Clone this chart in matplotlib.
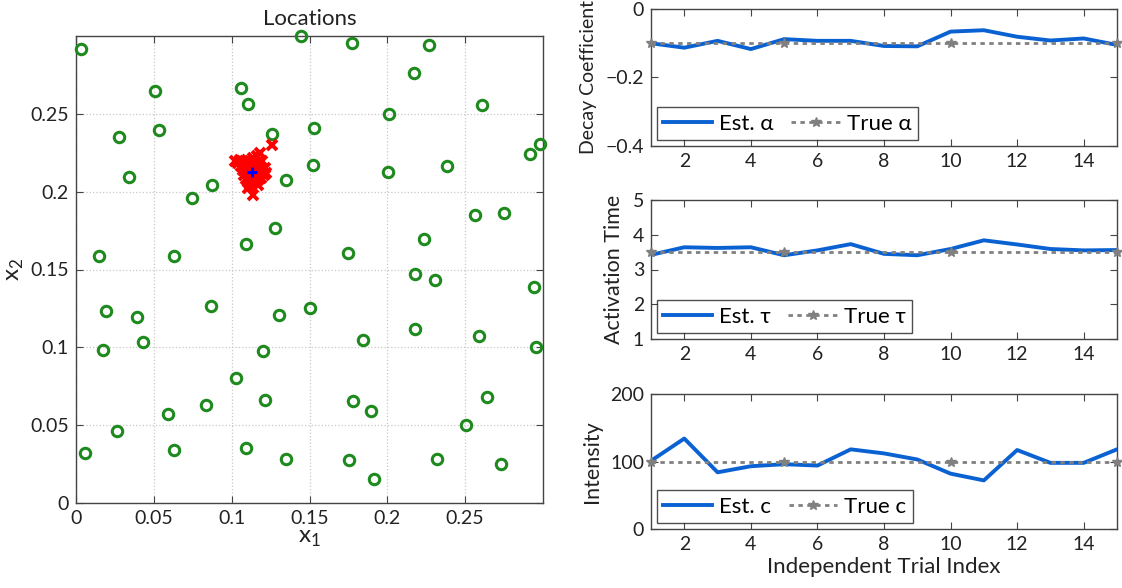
import matplotlib
matplotlib.use("Agg")
import matplotlib.pyplot as plt

plt.rcParams['font.family'] = ['Lato', 'DejaVu Sans']
plt.rcParams['mathtext.fontset'] = 'custom'
plt.rcParams['mathtext.rm'] = 'Lato'

# ---------------- data ----------------
sensor_x = [0.0033, 0.1448, 0.1773, 0.2267, 0.2171, 0.0508, 0.1057, 0.1105, 0.2607, 0.2012,
            0.0277, 0.0534, 0.1259, 0.1530, 0.2981, 0.2919, 0.0341, 0.1521, 0.2005, 0.2384,
            0.1346, 0.0873, 0.0745, 0.2565, 0.2747, 0.1278, 0.1092, 0.2235, 0.0146, 0.0630,
            0.1746, 0.2178, 0.2306, 0.2942, 0.0192, 0.0391, 0.0869, 0.1307, 0.1503, 0.2178,
            0.2588, 0.0176, 0.0433, 0.1200, 0.1842, 0.2956, 0.1028, 0.1213, 0.0835, 0.1780,
            0.1895, 0.2643, 0.0589, 0.0263, 0.2508, 0.0056, 0.0628, 0.1092, 0.1349, 0.1753,
            0.2317, 0.2733, 0.1913]
sensor_y = [0.2916, 0.2998, 0.2953, 0.2940, 0.2765, 0.2645, 0.2664, 0.2561, 0.2559, 0.2497,
            0.2348, 0.2397, 0.2369, 0.2409, 0.2307, 0.2241, 0.2093, 0.2172, 0.2125, 0.2166,
            0.2074, 0.2041, 0.1958, 0.1851, 0.1864, 0.1765, 0.1665, 0.1695, 0.1584, 0.1586,
            0.1605, 0.1470, 0.1432, 0.1389, 0.1235, 0.1198, 0.1265, 0.1209, 0.1254, 0.1115,
            0.1076, 0.0984, 0.1032, 0.0976, 0.1049, 0.1001, 0.0805, 0.0663, 0.0629, 0.0657,
            0.0591, 0.0680, 0.0571, 0.0464, 0.0499, 0.0319, 0.0342, 0.0351, 0.0282, 0.0278,
            0.0282, 0.0252, 0.0152]

est_src_x = [0.1023, 0.1040, 0.1055, 0.1062, 0.1075, 0.1080, 0.1088, 0.1092, 0.1095, 0.1100,
             0.1105, 0.1108, 0.1112, 0.1115, 0.1118, 0.1122, 0.1125, 0.1128, 0.1131, 0.1134,
             0.1138, 0.1140, 0.1142, 0.1145, 0.1148, 0.1152, 0.1155, 0.1160, 0.1163, 0.1168,
             0.1172, 0.1175, 0.1180, 0.1183, 0.1188, 0.1193, 0.1198, 0.1205, 0.1212, 0.1220,
             0.1259, 0.1102, 0.1118, 0.1083, 0.1135, 0.1170]
est_src_y = [0.2196, 0.2185, 0.2205, 0.2165, 0.2140, 0.2110, 0.2180, 0.2080, 0.2150, 0.2120,
             0.2060, 0.2170, 0.2140, 0.2100, 0.2195, 0.2075, 0.2155, 0.2115, 0.2180, 0.2090,
             0.2140, 0.1977, 0.2060, 0.2200, 0.2120, 0.2165, 0.2095, 0.2230, 0.2140, 0.2075,
             0.2190, 0.2110, 0.2250, 0.2160, 0.2090, 0.2130, 0.2200, 0.2105, 0.2150, 0.2120,
             0.2298, 0.2025, 0.2040, 0.2200, 0.2215, 0.2040]
true_src = (0.1128, 0.2129)

trials = list(range(1, 16))
est_alpha = [-0.100, -0.113, -0.093, -0.117, -0.088, -0.093, -0.093, -0.108, -0.109, -0.066,
             -0.062, -0.081, -0.092, -0.086, -0.105]
true_alpha = [-0.1] * 15
est_tau = [3.42, 3.64, 3.62, 3.64, 3.41, 3.55, 3.73, 3.45, 3.41, 3.59, 3.84, 3.72, 3.59, 3.55, 3.56]
true_tau = [3.5] * 15
est_c = [101, 134, 84, 93, 96, 94, 118, 112, 103, 82, 72, 117, 98, 98, 118]
true_c = [100] * 15

# ---------------- style ----------------
W, H = 1122, 588
fig = plt.figure(figsize=(W / 100, H / 100), dpi=100)
spine_col = '#444444'
green = '#1e8a1e'
blue = '#0a62d2'
gray = '#808080'
tick_fs = 14
lab_fs = 15.5


def style_ax(ax):
    for s in ax.spines.values():
        s.set_color(spine_col)
        s.set_linewidth(1.0)
    ax.tick_params(direction='in', top=True, right=True, length=5, width=0.8,
                   colors=spine_col, labelcolor='#222222', labelsize=tick_fs, pad=5)


def frac(x0, y0, x1, y1):
    return [x0 / W, 1 - y1 / H, (x1 - x0) / W, (y1 - y0) / H]


# left scatter
ax = fig.add_axes(frac(76, 36, 543, 503))
style_ax(ax)
ax.grid(True, linestyle=':', color='#c8c8c8', linewidth=0.9)
ax.set_axisbelow(True)
ax.plot(sensor_x, sensor_y, 'o', mfc='none', mec=green, ms=7.5, mew=2.2, clip_on=False, zorder=3)
ax.plot(est_src_x, est_src_y, 'x', color='red', ms=6.5, mew=2.8, zorder=4)
ax.plot([true_src[0]], [true_src[1]], '+', color='blue', ms=7, mew=2.2, zorder=5)
ax.set_xlim(0, 0.3)
ax.set_ylim(0, 0.3)
ax.set_xticks([0, 0.05, 0.1, 0.15, 0.2, 0.25])
ax.set_xticklabels(['0', '0.05', '0.1', '0.15', '0.2', '0.25'])
ax.set_yticks([0, 0.05, 0.1, 0.15, 0.2, 0.25])
ax.set_yticklabels(['0', '0.05', '0.1', '0.15', '0.2', '0.25'])
ax.set_title('Locations', fontsize=16, color='#222222', pad=8)
ax.set_xlabel(r'x$_{\mathregular{1}}$', fontsize=lab_fs + 2, color='#222222', labelpad=1)
ax.set_ylabel(r'x$_{\mathregular{2}}$', fontsize=lab_fs + 2, color='#222222', labelpad=3)

# right panels
panels = [
    (frac(651, 9, 1117, 146), est_alpha, true_alpha, (-0.4, 0), [-0.4, -0.2, 0],
     ['\u22120.4', '\u22120.2', '0'], 'Decay Coefficient', 'α', 14),
    (frac(651, 200, 1117, 339), est_tau, true_tau, (1, 5), [1, 2, 3, 4, 5],
     ['1', '2', '3', '4', '5'], 'Activation Time', 'τ', lab_fs),
    (frac(651, 394, 1117, 529), est_c, true_c, (0, 200), [0, 100, 200],
     ['0', '100', '200'], 'Intensity', 'c', lab_fs),
]
for i, (pos, est, tru, ylim, yt, ytl, ylab, sym, yfs) in enumerate(panels):
    a = fig.add_axes(pos)
    style_ax(a)
    a.plot(trials, est, '-', color=blue, lw=2.8, label='Est. ' + sym, zorder=3)
    a.plot(trials, tru, linestyle=(0, (1.6, 1.6)), color=gray, lw=2.0,
           marker='*', ms=7, mfc=gray, mec=gray, markevery=[0, 4, 9, 14],
           label='True ' + sym, clip_on=False, zorder=4)
    a.set_xlim(1, 15)
    a.set_ylim(*ylim)
    a.set_xticks([2, 4, 6, 8, 10, 12, 14])
    a.set_yticks(yt)
    a.set_yticklabels(ytl)
    a.set_ylabel(ylab, fontsize=yfs, color='#222222', labelpad=6)
    leg = a.legend(loc='lower left', ncol=2, fontsize=16, frameon=True, fancybox=False,
                   edgecolor='#222222', handlelength=2.2, handletextpad=0.3,
                   columnspacing=0.8, borderpad=0.3, borderaxespad=0.25)
    leg.get_frame().set_linewidth(1.0)
    if i == 2:
        a.set_xlabel('Independent Trial Index', fontsize=lab_fs + 0.5, color='#222222', labelpad=3)

fig.savefig('out.png', dpi=100)
